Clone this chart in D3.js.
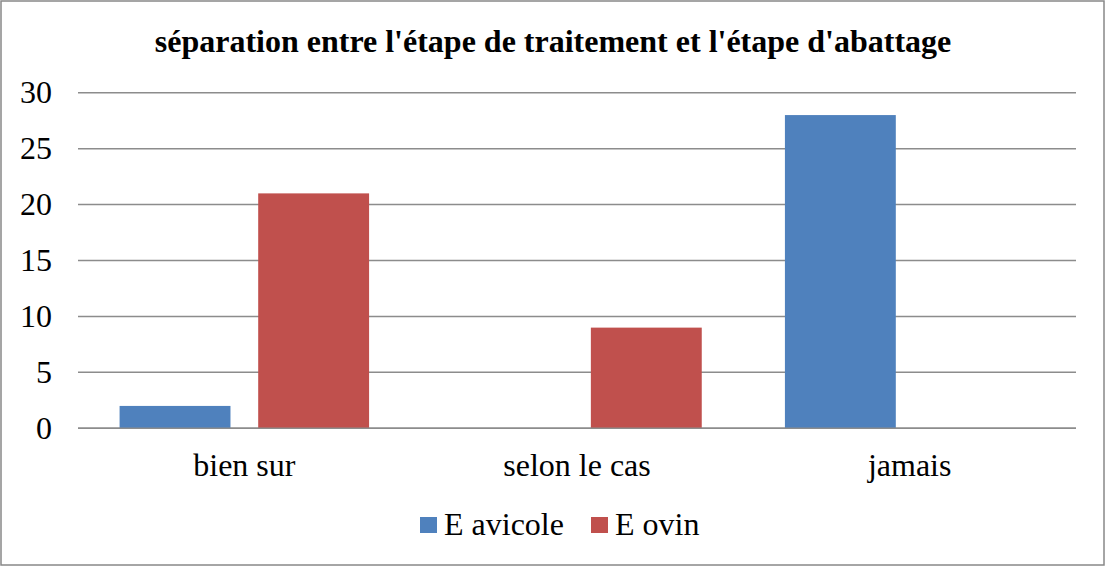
<!DOCTYPE html>
<html>
<head>
<meta charset="utf-8">
<script src="https://cdn.jsdelivr.net/npm/d3@7"></script>
<style>
  body { margin: 0; background: #fff; }
  svg { display: block; }
</style>
</head>
<body>
<svg width="1106" height="567"></svg>
<script>
var categories = ["bien sur", "selon le cas", "jamais"];
var seriesNames = ["E avicole", "E ovin"];
var avicole = [2, 0, 28];
var ovin = [21, 9, 0];
var yTicks = [0, 5, 10, 15, 20, 25, 30];
var colors = ["#4F81BD", "#C0504D"];

var title = "séparation entre l'étape de traitement et l'étape d'abattage";
var serif = "'Liberation Serif', 'Times New Roman', serif";

var W = 1106, H = 567;
var margin = {top: 92.7, left: 78};
var width = 1076 - margin.left;
var height = 428.3 - margin.top;

var svg = d3.select("svg");

// outer frame
svg.append("rect")
    .attr("x", 1).attr("y", 1)
    .attr("width", W - 3).attr("height", H - 3)
    .attr("fill", "#fff")
    .attr("stroke", "#888")
    .attr("stroke-width", 1.5);

svg.append("text")
    .attr("x", 553)
    .attr("y", 52)
    .attr("text-anchor", "middle")
    .style("font-family", serif)
    .style("font-size", "32px")
    .style("font-weight", "bold")
    .text(title);

var g = svg.append("g")
    .attr("transform", "translate(" + margin.left + "," + margin.top + ")");

var x0 = d3.scaleBand().domain(categories).range([0, width]).padding(0);
var x1 = d3.scaleBand().domain(seriesNames).range([0, x0.bandwidth()])
    .paddingInner(0.2).paddingOuter(0.3);
var y = d3.scaleLinear().domain([0, 30]).range([height, 0]);

// gridlines
g.selectAll(".grid")
    .data(yTicks)
    .enter().append("line")
    .attr("class", "grid")
    .attr("x1", 0).attr("x2", width)
    .attr("y1", function(d){ return y(d); })
    .attr("y2", function(d){ return y(d); })
    .attr("stroke", "#8c8c8c")
    .attr("stroke-width", 1.5);

// y axis labels
var yAxis = g.append("g")
    .call(d3.axisLeft(y).tickValues(yTicks).tickSize(0).tickPadding(26));
yAxis.select(".domain").remove();
yAxis.selectAll("text")
    .style("font-family", serif)
    .style("font-size", "32px")
    .attr("fill", "#000");

var data = categories.map(function(c, i){
    return {cat: c, values: [avicole[i], ovin[i]]};
});

var groups = g.selectAll(".cat")
    .data(data)
    .enter().append("g")
    .attr("class", "cat")
    .attr("transform", function(d){ return "translate(" + x0(d.cat) + ",0)"; });

groups.selectAll("rect")
    .data(function(d){ return d.values.map(function(v, j){ return {name: seriesNames[j], value: v, j: j}; }); })
    .enter().append("rect")
    .filter(function(d){ return d.value > 0; })
    .attr("x", function(d){ return x1(d.name); })
    .attr("width", x1.bandwidth())
    .attr("y", function(d){ return y(d.value); })
    .attr("height", function(d){ return y(0) - y(d.value); })
    .attr("fill", function(d){ return colors[d.j]; });

// baseline on top
g.append("line")
    .attr("x1", 0).attr("x2", width)
    .attr("y1", y(0)).attr("y2", y(0))
    .attr("stroke", "#8c8c8c")
    .attr("stroke-width", 1.5);

// category labels
var xAxis = g.append("g")
    .attr("transform", "translate(0," + height + ")")
    .call(d3.axisBottom(x0).tickSize(0).tickPadding(25));
xAxis.select(".domain").remove();
xAxis.selectAll("text")
    .style("font-family", serif)
    .style("font-size", "32px")
    .attr("fill", "#000");

// legend
var legendX = [420, 591];
var legend = svg.selectAll(".legend")
    .data(seriesNames)
    .enter().append("g")
    .attr("class", "legend")
    .attr("transform", function(d, i){ return "translate(" + legendX[i] + ",517)"; });
legend.append("rect")
    .attr("width", 17).attr("height", 16)
    .attr("fill", function(d, i){ return colors[i]; });
legend.append("text")
    .attr("x", 24)
    .attr("y", 18)
    .style("font-family", serif)
    .style("font-size", "32px")
    .text(function(d){ return d; });
</script>
</body>
</html>
